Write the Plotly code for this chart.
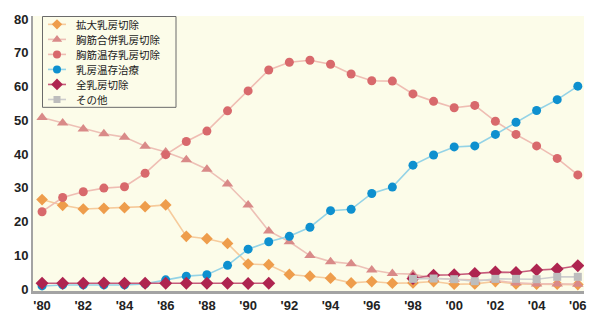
import plotly.graph_objects as go

# Survey years and tick labels
years = list(range(1980, 2007))
tick_years = list(range(1980, 2007, 2))
tick_labels = ["'" + str(y)[2:] for y in tick_years]
y_ticks = [0, 10, 20, 30, 40, 50, 60, 70, 80]

# Share of each surgical procedure (%)
kakudai = [26.5, 24.8, 23.7, 23.9, 24.1, 24.4, 24.9, 15.6, 14.9, 13.5, 7.4, 7.2,
           4.3, 3.8, 3.2, 1.8, 2.2, 1.7, 1.8, 2.2, 1.4, 1.5, 2.2, 1.5, 1.4, 1.4, 1.3]
kyokin_heiyo = [50.8, 49.2, 47.4, 46.0, 45.0, 42.3, 40.6, 38.3, 35.5, 31.1, 24.9, 17.2,
                14.0, 9.9, 8.1, 7.5, 5.6, 4.6, 4.4, 3.2, 2.9, 2.6, 2.5, 1.8, 1.5, 1.5, 1.4]
kyokin_onzon = [22.9, 27.1, 28.8, 29.9, 30.3, 34.3, 39.8, 43.7, 46.8, 52.8, 58.7, 64.9,
                67.2, 67.8, 66.6, 63.7, 61.7, 61.6, 57.8, 55.6, 53.7, 54.4, 49.7, 45.8, 42.4, 38.7, 33.8]
onzon_chiryo = [0.9, 1.2, 1.2, 1.2, 1.2, 1.5, 2.7, 3.8, 4.2, 7.0, 11.8, 14.0,
                15.6, 18.3, 23.2, 23.6, 28.3, 30.2, 36.7, 39.7, 42.1, 42.4, 45.8, 49.4, 52.9, 56.1, 60.1]
zen_setsujo = [1.7, 1.7, 1.7, 1.8, 1.7, 1.7, 1.7, 1.7, 1.7, 1.7, 1.6, 1.7,
               None, None, None, None, None, None, 3.1, 4.1, 4.2, 4.6, 5.0, 4.9, 5.6, 5.9, 6.9]
sonota = [None] * 18 + [3.0, 3.1, 2.9, 2.3, 3.0, 3.0, 2.9, 3.6, 3.6]

series_names = ["拡大乳房切除", "胸筋合併乳房切除", "胸筋温存乳房切除",
                "乳房温存治療", "全乳房切除", "その他"]
series_values = [kakudai, kyokin_heiyo, kyokin_onzon, onzon_chiryo, zen_setsujo, sonota]
marker_colors = ["#EE9D4C", "#D98A88", "#D8696C", "#0E90CF", "#AE2550", "#BDBDBD"]
line_colors = ["#F6CB9C", "#EDC0B6", "#EFBDB3", "#94D3E6", "#C65B7A", "#CDCDCD"]
symbols = ["diamond", "triangle-up", "circle", "circle", "diamond", "square"]
sizes = [9, 10, 9, 9, 10, 8]

fig = go.Figure()

for name, vals, mc, lc, sym, sz in zip(series_names, series_values, marker_colors,
                                       line_colors, symbols, sizes):
    fig.add_trace(go.Scatter(
        x=years, y=vals, name=name, mode="lines+markers",
        line=dict(color=lc, width=1.6),
        marker=dict(color=mc, symbol=sym, size=sz, line=dict(width=0)),
        connectgaps=False, showlegend=False, hoverinfo="x+y+name",
    ))

# Hand-built legend in page-pixel coordinates on an overlay axis pair
L, R, T, B = 33, 584, 15, 295
key_x0, key_x1, key_xm, text_x = 48, 66, 57, 75
legend_font = 10.5
row_dy = 15.3
row_y0 = 23.5
for i, (name, mc, lc, sym, sz) in enumerate(zip(series_names, marker_colors,
                                                 line_colors, symbols, sizes)):
    yy = row_y0 + i * row_dy
    fig.add_trace(go.Scatter(
        x=[key_x0, key_xm, key_x1], y=[yy, yy, yy], xaxis="x2", yaxis="y2",
        mode="lines", line=dict(color=lc, width=1.6),
        showlegend=False, hoverinfo="skip"))
    fig.add_trace(go.Scatter(
        x=[key_xm], y=[yy], xaxis="x2", yaxis="y2",
        mode="markers", marker=dict(color=mc, symbol=sym, size=sz - 1, line=dict(width=0)),
        showlegend=False, hoverinfo="skip"))
    fig.add_annotation(
        x=text_x, y=yy, xref="x2", yref="y2", text=name, showarrow=False,
        xanchor="left", yanchor="middle", borderpad=0,
        font=dict(family="Noto Sans CJK JP", size=legend_font, color="#1a1a1a"))

fig.add_shape(type="rect", xref="x2", yref="y2", x0=42.5, x1=176, y0=15.5, y1=108,
              line=dict(color="#6a6a6a", width=1), fillcolor="rgba(0,0,0,0)", layer="above")

fig.update_layout(
    width=600, height=325,
    margin=dict(l=L, r=600 - R, t=T, b=325 - B),
    paper_bgcolor="white",
    plot_bgcolor="#FCFCE9",
    font=dict(family="Liberation Sans, Arial", size=13, color="#222222"),
    xaxis=dict(
        range=[1979.56, 2006.3], tickmode="array", tickvals=tick_years,
        ticktext=tick_labels, showgrid=False, zeroline=False,
        showline=True, linecolor="#A3A3A3", linewidth=3, ticks="",
        tickfont=dict(family="Liberation Sans, Arial", size=13, color="#222222", weight="bold"),
    ),
    yaxis=dict(
        range=[-0.6, 80.9], tickmode="array", tickvals=y_ticks,
        showgrid=False, zeroline=False,
        showline=True, linecolor="#A3A3A3", linewidth=2, ticks="",
        tickfont=dict(family="Liberation Sans, Arial", size=13, color="#222222", weight="bold"),
    ),
    xaxis2=dict(range=[L, R], overlaying="x", anchor="y2", visible=False, fixedrange=True),
    yaxis2=dict(range=[B, T], overlaying="y", anchor="x2", visible=False, fixedrange=True),
    showlegend=False,
)

fig.write_html("out.html")
